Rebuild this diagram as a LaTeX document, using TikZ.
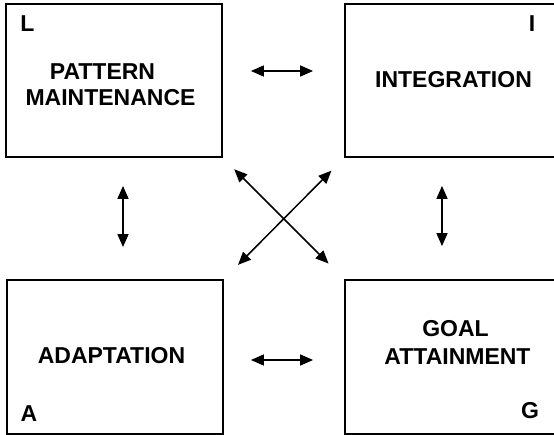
\documentclass[tikz,border=0pt]{standalone}
\usepackage{fontspec}
\setmainfont{Liberation Sans}
\usetikzlibrary{arrows.meta}
\begin{document}
\begin{tikzpicture}[x=1pt,y=-1pt,
  box/.style={draw=black, line width=1.8pt, inner sep=0pt, fill=none},
  lbl/.style={font=\fontsize{23}{26}\selectfont\bfseries, anchor=base, inner sep=0pt},
  arr/.style={line width=1.5pt, {Triangle[length=13pt,width=11pt]}-{Triangle[length=13pt,width=11pt]}}]
\useasboundingbox (0,0) rectangle (554,435);
% boxes
\node[box, minimum width=216pt, minimum height=153pt] (L) at (114,80.5) {};
\node[box, minimum width=211pt, minimum height=153pt] (I) at (450.5,80.5) {};
\node[box, minimum width=216pt, minimum height=154pt] (A) at (115,357) {};
\node[box, minimum width=211pt, minimum height=154pt] (G) at (450.5,357) {};
% texts
\node[lbl] (tp) at (102.5,80) {PATTERN};
\node[lbl] (tm) at (110.5,106) {MAINTENANCE};
\node[lbl] (ti) at (453.5,88) {INTEGRATION};
\node[lbl] (ta) at (111.5,363) {ADAPTATION};
\node[lbl] (tg) at (455.5,337) {GOAL};
\node[lbl] (tt) at (457.5,364) {ATTAINMENT};
\node[lbl] (cl) at (27.5,32) {L};
\node[lbl] (ci) at (532,32) {I};
\node[lbl] (ca) at (29,421) {A};
\node[lbl] (cg) at (530,418) {G};
% connectors
\draw[arr, shorten <=28pt, shorten >=31pt] ([yshift=9.5pt]L.east) -- ([yshift=9.5pt]I.west);
\draw[arr, shorten <=27pt, shorten >=31pt] ([yshift=-3pt]A.east) -- ([yshift=-3pt]G.west);
\draw[arr, shorten <=28pt, shorten >=32pt] ([xshift=9pt]L.south) -- ([xshift=8pt]A.north);
\draw[arr, shorten <=28pt, shorten >=33pt] ([xshift=-8.5pt]I.south) -- ([xshift=-8.5pt]G.north);
\draw[arr, shorten <=16pt, shorten >=22pt] (L.south east) -- (G.north west);
\draw[arr, shorten <=18pt, shorten >=20pt] (I.south west) -- (A.north east);
\end{tikzpicture}
\end{document}
